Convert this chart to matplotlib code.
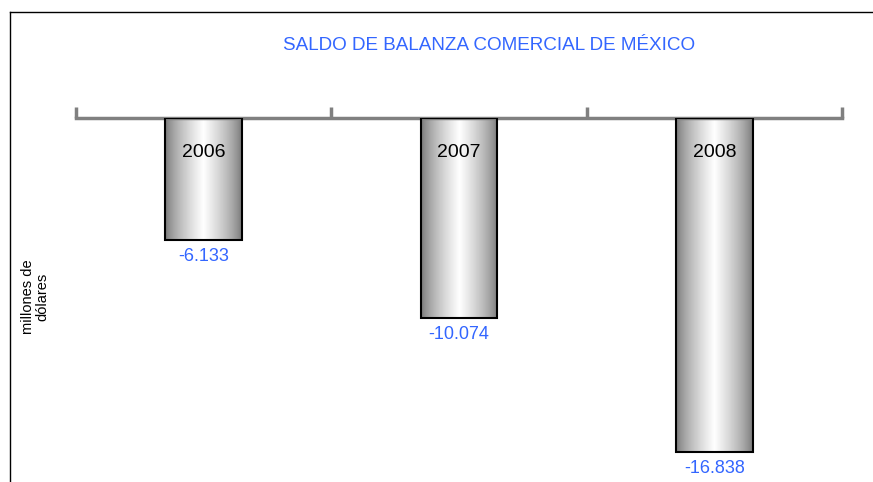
import numpy as np
import matplotlib.pyplot as plt
from matplotlib.lines import Line2D
from matplotlib.patches import Rectangle

years = ['2006', '2007', '2008']
saldo = [-6.133, -10.074, -16.838]
value_labels = ['-6.133', '-10.074', '-16.838']

title = 'SALDO DE BALANZA COMERCIAL DE MÉXICO'
ylabel = 'millones de\ndólares'

blue = '#3366ff'
sans = ['Liberation Sans', 'DejaVu Sans']

W, H = 873, 482
fig = plt.figure(figsize=(W / 100, H / 100), dpi=100)
fig.patch.set_facecolor('white')

ax = fig.add_axes([76 / W, 0, 766 / W, (H - 118) / H])
ax.set_xlim(-0.5, len(years) - 0.5)
ax.set_ylim(-18.35, 0)
ax.set_facecolor('none')

for s in ['bottom', 'left', 'right']:
    ax.spines[s].set_visible(False)
ax.spines['top'].set_color('#808080')
ax.spines['top'].set_linewidth(2.5)
ax.xaxis.tick_top()
ax.set_xticks(np.arange(-0.5, len(years), 1.0))
ax.set_xticklabels([])
ax.tick_params(axis='x', direction='out', length=8, width=2.5, color='#808080')
ax.set_yticks([])

# horizontal gray-white-gray gradient for the bars
xs = np.linspace(0, 1, 256)
shade = 0.45 + 0.55 * np.clip(1 - np.abs(xs - 0.5) / 0.5, 0, 1) ** 0.7
grad = np.tile(shade, (2, 1))

bw = 0.30
for i, (yr, v, lab) in enumerate(zip(years, saldo, value_labels)):
    x0 = i - bw / 2
    im = ax.imshow(grad, cmap='gray', vmin=0, vmax=1, aspect='auto',
                   extent=[x0, x0 + bw, v, 0], interpolation='bicubic', zorder=2)
    rect = Rectangle((x0, v), bw, -v, facecolor='none', edgecolor='black',
                     linewidth=1.5, zorder=3)
    ax.add_patch(rect)
    im.set_clip_path(rect)
    ax.text(i, -1.3, yr, ha='center', va='top', fontsize=14,
            family=sans, color='black', zorder=4)
    ax.text(i, v - 0.4, lab, ha='center', va='top', fontsize=13,
            family=sans, color=blue, zorder=4)

fig.text(489 / W, 1 - 45 / H, title, ha='center', va='center',
         fontsize=13.6, color=blue, family=sans)
fig.text(35 / W, 1 - 297 / H, ylabel, ha='center', va='center', rotation=90,
         fontsize=10.5, family=sans, linespacing=1.0)

# outer border lines (top and left)
fig.add_artist(Line2D([10 / W, 1], [1 - 12 / H, 1 - 12 / H], color='black', lw=1))
fig.add_artist(Line2D([10 / W, 10 / W], [0, 1 - 12 / H], color='black', lw=1))

fig.savefig('out.png', dpi=100)
